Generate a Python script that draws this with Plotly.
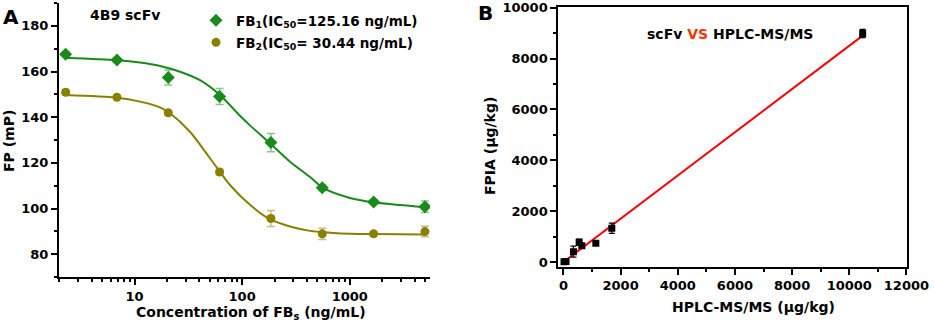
import plotly.graph_objects as go

W, H = 934, 326

# ---------------- Panel A data ----------------
conc = [2.29, 6.86, 20.6, 61.7, 185.2, 555.6, 1666.7, 5000]
fb1_fp = [167.6, 165.0, 157.4, 149.1, 128.9, 109.1, 102.9, 100.8]
fb1_err = [1.0, 0.8, 3.3, 3.5, 4.0, 1.2, 1.0, 2.5]
fb2_fp = [150.9, 148.7, 141.9, 116.0, 95.6, 88.9, 88.9, 89.9]
fb2_err = [1.2, 0.8, 1.0, 1.2, 3.5, 2.5, 0.8, 2.3]

# fitted curves
fit1_x = [2.29, 6.91, 11.23, 17.24, 26.45, 40.57, 62.25, 95.5, 118.3, 181.5, 278.6, 427.6, 564, 1005, 1655, 2900, 5000]
fit1_y = [166.0, 164.9, 163.9, 162.4, 159.9, 156.2, 149.7, 140.6, 136.4, 128.6, 120.5, 113.8, 109.0, 104.6, 102.7, 101.5, 100.6]
fit2_x = [2.29, 6.91, 11.23, 17.24, 21.35, 32.75, 50.24, 62.25, 77.1, 118.3, 181.5, 278.6, 427.6, 655, 1005, 1655, 5000]
fit2_y = [149.7, 148.5, 146.8, 144.3, 141.7, 133.6, 122.0, 116.1, 110.3, 101.6, 95.3, 92.1, 90.2, 89.4, 88.9, 88.8, 88.6]

xa_ticks = [10, 100, 1000]
xa_minor = [2, 3, 4, 5, 6, 7, 8, 9, 20, 30, 40, 50, 60, 70, 80, 90,
            200, 300, 400, 500, 600, 700, 800, 900, 2000, 3000, 4000, 5000]
ya_ticks = [80, 100, 120, 140, 160, 180]

# ---------------- Panel B data ----------------
hplc = [20, 90, 350, 549, 643, 1133, 1692, 10469]
fpia = [10, 15, 406, 776, 643, 737, 1328, 8985]
fpia_err = [30, 30, 217, 120, 80, 60, 200, 160]
fit_b_x = [0, 10470]
fit_b_y = [0, 8900]
xb_ticks = [0, 2000, 4000, 6000, 8000, 10000, 12000]
yb_ticks = [0, 2000, 4000, 6000, 8000, 10000]

GREEN = "#1a8a1a"
OLIVE = "#8a8000"
FONT = "DejaVu Sans"

fig = go.Figure()

fig.add_trace(go.Scatter(x=fit1_x, y=fit1_y, mode="lines",
                         line=dict(color=GREEN, width=2, shape="spline", smoothing=0.8),
                         showlegend=False, xaxis="x", yaxis="y", hoverinfo="skip"))
fig.add_trace(go.Scatter(x=fit2_x, y=fit2_y, mode="lines",
                         line=dict(color=OLIVE, width=2, shape="spline", smoothing=0.8),
                         showlegend=False, xaxis="x", yaxis="y", hoverinfo="skip"))
fig.add_trace(go.Scatter(x=conc, y=fb1_fp, mode="markers", legendgroup="g1",
                         marker=dict(symbol="diamond", size=10, color=GREEN),
                         error_y=dict(type="data", array=fb1_err, color="rgba(26,138,26,0.5)", thickness=1.5, width=4),
                         name="FB<sub>1</sub>(IC<sub>50</sub>=125.16 ng/mL)", xaxis="x", yaxis="y"))
fig.add_trace(go.Scatter(x=conc, y=fb2_fp, mode="markers", legendgroup="g2",
                         marker=dict(symbol="circle", size=9, color=OLIVE),
                         error_y=dict(type="data", array=fb2_err, color="rgba(138,128,0,0.5)", thickness=1.5, width=4),
                         name="FB<sub>2</sub>(IC<sub>50</sub>= 30.44 ng/mL)", xaxis="x", yaxis="y"))

fig.add_trace(go.Scatter(x=fit_b_x, y=fit_b_y, mode="lines", line=dict(color="#ff0000", width=2),
                         showlegend=False, xaxis="x2", yaxis="y2", hoverinfo="skip"))
fig.add_trace(go.Scatter(x=hplc, y=fpia, mode="markers",
                         marker=dict(symbol="square", size=7, color="black"),
                         error_y=dict(type="data", array=fpia_err, color="black", thickness=1.2, width=3),
                         showlegend=False, xaxis="x2", yaxis="y2"))

tickfont = dict(family=FONT, size=13, color="black", weight="bold")

def px_x(p):
    return p / W

def px_y(p):
    return 1 - p / H

common = dict(showline=True, linecolor="black", linewidth=2, ticks="outside", ticklen=6, tickwidth=2,
              tickcolor="black", showgrid=False, zeroline=False, tickfont=tickfont, automargin=False)

fig.update_layout(
    width=W, height=H, margin=dict(l=0, r=0, t=0, b=0, autoexpand=False),
    paper_bgcolor="white", plot_bgcolor="white",
    xaxis=dict(type="log", range=[0.298, 3.746], domain=[px_x(59), px_x(430)], anchor="y",
               tickvals=xa_ticks, ticktext=[str(v) for v in xa_ticks],
               minor=dict(tickvals=xa_minor, ticks="outside", ticklen=3, tickwidth=1.5, tickcolor="black"),
               **common),
    yaxis=dict(range=[70, 190], domain=[px_y(277), px_y(3)], anchor="x",
               tickvals=ya_ticks, ticktext=[str(v) for v in ya_ticks],
               minor=dict(dtick=10, ticks="outside", ticklen=3, tickwidth=1.5, tickcolor="black"),
               **common),
    xaxis2=dict(range=[-180, 12010], domain=[px_x(558.3), px_x(906.7)], anchor="y2", mirror=True,
                tickvals=xb_ticks, ticktext=[str(v) for v in xb_ticks],
                minor=dict(dtick=1000, ticks="outside", ticklen=3, tickwidth=1.5, tickcolor="black"),
                **common),
    yaxis2=dict(range=[-185, 10015], domain=[px_y(266.7), px_y(7.3)], anchor="x2", mirror=True,
                tickvals=yb_ticks, ticktext=[str(v) for v in yb_ticks],
                minor=dict(dtick=1000, ticks="outside", ticklen=3, tickwidth=1.5, tickcolor="black"),
                **common),
    legend=dict(x=px_x(196), y=px_y(5), xanchor="left", yanchor="top", bgcolor="rgba(0,0,0,0)",
                font=dict(family=FONT, size=13.5, color="black", weight="bold"), tracegroupgap=1.5, itemwidth=30),
)

def ann(text, x, y, size=14, angle=0, color="black"):
    fig.add_annotation(text=text, x=px_x(x), y=px_y(y), xref="paper", yref="paper", showarrow=False,
                       xanchor="center", yanchor="middle", textangle=angle,
                       font=dict(family=FONT, size=size, color=color, weight="bold"))

ann("A", 11, 17, size=20)
ann("B", 485, 13, size=20)
ann("4B9 scFv", 125, 15, size=14)
ann("scFv <span style='color:#ff3300'>VS</span> HPLC-MS/MS", 730, 34, size=14)
ann("FP (mP)", 9, 141, size=14, angle=-90)
ann("Concentration of FB<sub>s</sub> (ng/mL)", 251, 313, size=14)
ann("FPIA (μg/kg)", 490, 146, size=14, angle=-90)
ann("HPLC-MS/MS (μg/kg)", 753, 307, size=14)

fig.write_html("out.html", config={"displayModeBar": False},
               post_script="document.body.style.margin='0px';document.body.style.padding='0px';"
                           "document.body.style.overflow='hidden';")
